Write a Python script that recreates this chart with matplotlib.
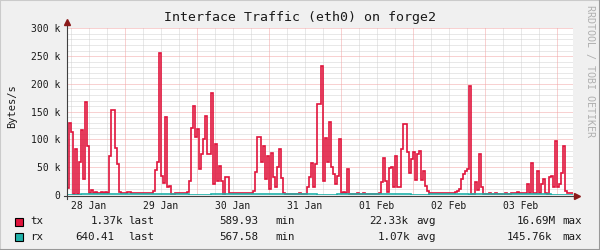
import numpy as np
import matplotlib
matplotlib.use('Agg')
import matplotlib.pyplot as plt
from matplotlib.lines import Line2D
from matplotlib.patches import Rectangle

# Traffic in kB/s, one sample every 40 minutes, first sample at 28 Jan 04:40
tx = [
    13, 129, 113, 2, 82, 2, 60, 117, 29, 168,
    89, 3, 9, 3, 5, 3, 3, 5, 3, 5,
    3, 71, 153, 153, 84, 55, 5, 3, 3, 3,
    5, 6, 3, 3, 3, 4, 3, 3, 3, 3,
    3, 3, 3, 7, 45, 60, 255, 35, 22, 141,
    14, 17, 2, 2, 3, 4, 4, 3, 3, 3,
    5, 26, 120, 160, 104, 118, 47, 73, 101, 142,
    74, 74, 183, 20, 92, 26, 53, 26, 2, 33,
    32, 3, 3, 4, 4, 4, 3, 3, 3, 3,
    3, 3, 3, 8, 42, 104, 104, 60, 88, 29,
    71, 11, 76, 33, 14, 51, 82, 30, 3, 2,
    2, 2, 2, 2, 2, 2, 4, 2, 2, 2,
    14, 32, 58, 14, 55, 163, 163, 232, 26, 103,
    59, 132, 51, 38, 20, 35, 101, 3, 6, 3,
    47, 2, 2, 2, 2, 4, 2, 2, 4, 2,
    2, 2, 2, 2, 2, 2, 3, 23, 67, 26,
    5, 48, 51, 14, 71, 14, 15, 82, 127, 127,
    77, 40, 65, 78, 27, 74, 80, 27, 44, 17,
    8, 4, 3, 3, 3, 4, 3, 3, 3, 3,
    3, 3, 3, 3, 5, 8, 11, 29, 38, 44,
    47, 196, 2, 2, 23, 9, 73, 14, 2, 2,
    2, 4, 2, 2, 4, 2, 2, 2, 2, 4,
    2, 2, 3, 4, 4, 6, 3, 4, 3, 3,
    19, 3, 57, 3, 4, 44, 4, 19, 29, 4,
    2, 32, 35, 15, 98, 15, 20, 40, 89, 7,
    3, 3, 3,
]
rx = [
    0.6, 0.6, 0.6, 0.6, 0.6, 0.6, 0.6, 1.2, 1.2, 1.2,
    1.2, 1.2, 1.2, 1.2, 1.2, 1.2, 1.2, 1.2, 1.2, 1.2,
    1.2, 1.2, 1.2, 1.2, 1.2, 1.2, 1.2, 1.2, 1.2, 1.2,
    1.2, 1.2, 1.2, 1.2, 1.2, 1.2, 1.2, 1.2, 1.2, 1.2,
    1.2, 1.2, 1.2, 1.2, 1.2, 1.2, 1.2, 1.2, 1.2, 1.2,
    1.2, 1.2, 1.2, 1.2, 1.2, 1.2, 1.2, 1.2, 1.2, 1.2,
    1.2, 0.6, 0.6, 0.6, 0.6, 0.6, 0.6, 0.6, 0.6, 0.6,
    0.6, 0.6, 1.2, 1.2, 1.2, 1.2, 1.2, 1.2, 1.2, 1.2,
    1.2, 1.2, 1.2, 1.2, 1.2, 1.2, 1.2, 1.2, 1.2, 1.2,
    1.2, 1.2, 1.2, 1.2, 1.2, 1.2, 1.2, 1.2, 1.2, 1.2,
    1.2, 1.2, 1.2, 1.2, 1.2, 1.2, 1.2, 1.2, 1.2, 1.2,
    1.2, 1.2, 1.2, 1.2, 1.2, 1.2, 1.2, 1.2, 1.2, 1.2,
    1.2, 1.2, 1.2, 1.2, 1.2, 0.6, 0.6, 0.6, 0.6, 0.6,
    0.6, 0.6, 0.6, 0.6, 0.6, 1.2, 1.2, 1.2, 1.2, 1.2,
    1.2, 1.2, 1.2, 1.2, 1.2, 1.2, 1.2, 1.2, 1.2, 1.2,
    1.2, 1.2, 1.2, 1.2, 1.2, 1.2, 1.2, 1.2, 1.2, 1.2,
    1.2, 1.2, 1.2, 1.2, 1.2, 1.2, 1.2, 1.2, 1.2, 1.2,
    1.2, 1.2, 0.6, 0.6, 0.6, 0.6, 0.6, 0.6, 0.6, 0.6,
    0.6, 1.2, 1.2, 1.2, 1.2, 1.2, 1.2, 1.2, 1.2, 1.2,
    1.2, 1.2, 1.2, 1.2, 1.2, 1.2, 1.2, 1.2, 1.2, 1.2,
    1.2, 0.3, 1.2, 1.2, 1.2, 1.2, 1.2, 1.2, 1.2, 1.2,
    1.2, 1.2, 1.2, 1.2, 1.2, 1.2, 1.2, 1.2, 1.2, 1.2,
    1.2, 1.2, 1.2, 1.2, 1.2, 1.2, 1.2, 1.2, 1.2, 1.2,
    1.2, 1.2, 1.2, 1.2, 1.2, 1.2, 1.2, 1.2, 1.2, 1.2,
    1.2, 1.2, 0.6, 0.6, 0.6, 0.6, 0.6, 0.6, 0.6, 0.6,
    0.6, 0.6, 0.6,
]

start_hour = 4 + 40 / 60      # hours after 28 Jan 00:00
sample_hours = 40 / 60

day_labels = ['28 Jan', '29 Jan', '30 Jan', '31 Jan', '01 Feb', '02 Feb', '03 Feb']
y_ticks = [0, 50, 100, 150, 200, 250, 300]
y_tick_labels = ['0', '50 k', '100 k', '150 k', '200 k', '250 k', '300 k']

legend_names = ['tx', 'rx']
legend_last = ['1.37k', '640.41']
legend_min = ['589.93', '567.58']
legend_avg = ['22.33k', '1.07k']
legend_max = ['16.69M', '145.76k']

TX_COLOR = '#E0143C'
RX_COLOR = '#20B2AA'
MONO = 'DejaVu Sans Mono'
W, H = 600, 250


def fx(x):
    return x / W


def fy(y):
    return 1 - y / H


def main():
    fig = plt.figure(figsize=(W / 100, H / 100), dpi=100, facecolor='#F0F0F0')

    # image frame (rrdtool shade)
    fig.add_artist(Line2D([0, 0, 1], [0, 1, 1], transform=fig.transFigure, color='#CBCBCB', lw=1.5))
    fig.add_artist(Line2D([0, 1, 1], [0, 0, 1], transform=fig.transFigure, color='#999999', lw=1.5))

    ax = fig.add_axes([fx(67), fy(195), 506 / W, (195 - 28.3) / H])
    ax.set_facecolor('white')

    edges = start_hour + np.arange(len(tx) + 1) * sample_hours
    ax.set_xlim(edges[0], edges[-1])
    ax.set_ylim(0, 300)

    # grid: 6h / 10k minor, midnight / 50k major
    for h in np.arange(0, 24 * 8 + 1, 6):
        if edges[0] < h < edges[-1]:
            if h % 24 == 0:
                ax.axvline(h, color='#F2A5A5', lw=0.72, ls=(0, (1, 1)), zorder=1)
            else:
                ax.axvline(h, color='#D2D2D2', lw=0.72, ls=(0, (1, 1)), zorder=0)
    for v in range(10, 301, 10):
        if v % 50 == 0:
            ax.axhline(v, color='#F2A5A5', lw=0.72, ls=(0, (1, 1)), zorder=1)
        else:
            ax.axhline(v, color='#D2D2D2', lw=0.72, ls=(0, (1, 1)), zorder=0)

    ax.stairs(tx, edges, baseline=None, color=TX_COLOR, lw=1.2, zorder=3)
    ax.stairs(rx, edges, baseline=None, color=RX_COLOR, lw=1.2, zorder=4)

    for s in ax.spines.values():
        s.set_visible(False)

    # axes with arrows (x axis drawn just under the zero line, as rrdtool does)
    ax.plot([-0.006, 1.006], [-0.008, -0.008], transform=ax.transAxes, color='#404040', lw=0.8,
            clip_on=False, zorder=5)
    ax.plot([0, 0], [-0.025, 1.03], transform=ax.transAxes, color='#404040', lw=0.8, clip_on=False, zorder=5)
    ax.plot(1.008, -0.008, marker='>', ms=4, color='#8B1A1A', transform=ax.transAxes, clip_on=False, zorder=6)
    ax.plot(0, 1.035, marker='^', ms=4, color='#8B1A1A', transform=ax.transAxes, clip_on=False, zorder=6)

    noon = [12 + 24 * i for i in range(len(day_labels))]
    ax.set_xticks(noon, day_labels)
    ax.set_yticks(y_ticks, y_tick_labels)
    ax.tick_params(length=0, labelsize=7, labelcolor='#1A1A1A')
    ax.tick_params(axis='y', pad=5)
    ax.tick_params(axis='x', pad=4)
    for lab in ax.get_xticklabels() + ax.get_yticklabels():
        lab.set_family(MONO)

    fig.text(fx(299.5), fy(18), 'Interface Traffic (eth0) on forge2', ha='center', va='center',
             family=MONO, size=9.5, color='#1A1A1A')
    fig.text(fx(12), fy(106), 'Bytes/s', rotation=90, ha='center', va='center',
             family=MONO, size=7.5, color='#1A1A1A')
    fig.text(fx(590), fy(5), 'RRDTOOL / TOBI OETIKER', rotation=270, ha='center', va='top',
             family=MONO, size=7.2, color='#B0B0B0')

    # legend rows
    colors = [TX_COLOR, RX_COLOR]
    row_y = [221.5, 236.5]
    last_x = [90.7, 76]
    avg_x = [370, 377.7]
    max_x = [516.7, 507.3]
    for i in range(2):
        y = row_y[i]
        fig.add_artist(Rectangle((fx(15), fy(y + 4)), 8 / W, 8 / H, transform=fig.transFigure,
                                 facecolor=colors[i], edgecolor='black', lw=0.8))
        parts = [(30.7, legend_names[i]), (last_x[i], legend_last[i]), (128.3, 'last'),
                 (219.3, legend_min[i]), (276, 'min'), (avg_x[i], legend_avg[i]), (416.7, 'avg'),
                 (max_x[i], legend_max[i]), (563.3, 'max')]
        for x, s in parts:
            fig.text(fx(x - 0.5), fy(y), s, ha='left', va='center', family=MONO, size=7.8,
                     color='#1A1A1A')

    fig.savefig('out.png', dpi=100, facecolor=fig.get_facecolor())


if __name__ == '__main__':
    main()
